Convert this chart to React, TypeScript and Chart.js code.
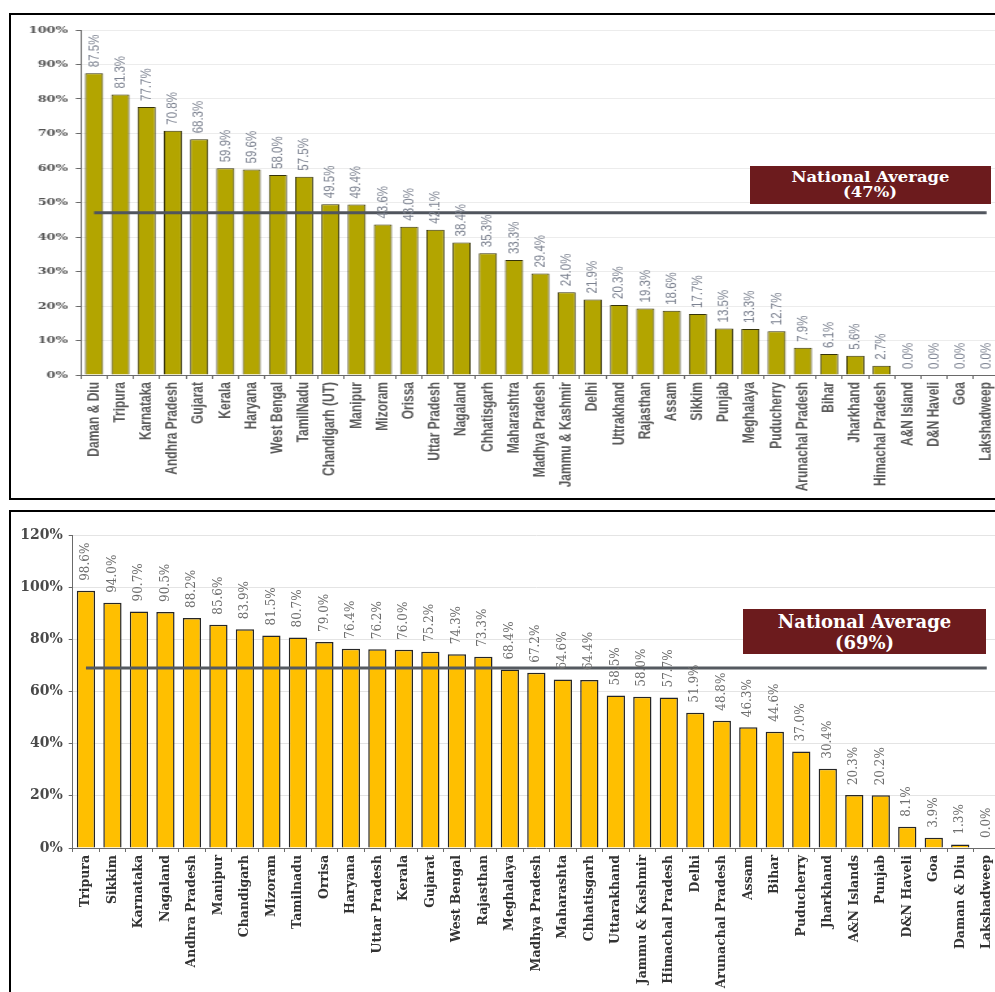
import React, { useEffect, useRef } from "react";
import { Chart, registerables } from "chart.js";

Chart.register(...registerables);

// ---- Upper chart: share of states (%) ----
const upperStates = [
  "Daman & Diu", "Tripura", "Karnataka", "Andhra Pradesh", "Gujarat", "Kerala", "Haryana",
  "West Bengal", "TamilNadu", "Chandigarh (UT)", "Manipur", "Mizoram", "Orissa", "Uttar Pradesh",
  "Nagaland", "Chhatisgarh", "Maharashtra", "Madhya Pradesh", "Jammu & Kashmir", "Delhi",
  "Uttrakhand", "Rajasthan", "Assam", "Sikkim", "Punjab", "Meghalaya", "Puducherry",
  "Arunachal Pradesh", "Bihar", "Jharkhand", "Himachal Pradesh", "A&N Island", "D&N Haveli",
  "Goa", "Lakshadweep",
];
const upperValues = [
  87.5, 81.3, 77.7, 70.8, 68.3, 59.9, 59.6, 58.0, 57.5, 49.5, 49.4, 43.6, 43.0, 42.1, 38.4,
  35.3, 33.3, 29.4, 24.0, 21.9, 20.3, 19.3, 18.6, 17.7, 13.5, 13.3, 12.7, 7.9, 6.1, 5.6, 2.7,
  0.0, 0.0, 0.0, 0.0,
];
const upperAverage = 47;
const upperAxisMax = 100;
const upperAxisStep = 10;

// ---- Lower chart: share of states (%) ----
const lowerStates = [
  "Tripura", "Sikkim", "Karnataka", "Nagaland", "Andhra Pradesh", "Manipur", "Chandigarh",
  "Mizoram", "Tamilnadu", "Orrisa", "Haryana", "Uttar Pradesh", "Kerala", "Gujarat",
  "West Bengal", "Rajasthan", "Meghalaya", "Madhya Pradesh", "Maharashta", "Chhatisgarh",
  "Uttarakhand", "Jammu & Kashmir", "Himachal Pradesh", "Delhi", "Arunachal Pradesh", "Assam",
  "Bihar", "Puducherry", "Jharkhand", "A&N Islands", "Punjab", "D&N Haveli", "Goa",
  "Daman & Diu", "Lakshadweep",
];
const lowerValues = [
  98.6, 94.0, 90.7, 90.5, 88.2, 85.6, 83.9, 81.5, 80.7, 79.0, 76.4, 76.2, 76.0, 75.2, 74.3,
  73.3, 68.4, 67.2, 64.6, 64.4, 58.5, 58.0, 57.7, 51.9, 48.8, 46.3, 44.6, 37.0, 30.4, 20.3,
  20.2, 8.1, 3.9, 1.3, 0.0,
];
const lowerAverage = 69;
const lowerAxisMax = 120;
const lowerAxisStep = 20;

type LabelStyle = { font: string; color: string; gap: number };

// Writes each bar's value, rotated, just above the bar.
function valueLabels(style: LabelStyle) {
  return {
    id: "valueLabels",
    afterDatasetsDraw(chart: any) {
      const meta = chart.getDatasetMeta(0);
      const values = chart.data.datasets[0].data as number[];
      const ctx = chart.ctx as CanvasRenderingContext2D;
      const top = chart.chartArea.top;
      ctx.save();
      ctx.font = style.font;
      ctx.fillStyle = style.color;
      ctx.textAlign = "left";
      ctx.textBaseline = "middle";
      meta.data.forEach((bar: any, i: number) => {
        const text = values[i].toFixed(1) + "%";
        const w = ctx.measureText(text).width;
        let start = bar.y - style.gap;
        if (start - w < top) start = top + w;
        ctx.save();
        ctx.translate(bar.x, start);
        ctx.rotate(-Math.PI / 2);
        ctx.fillText(text, 0, 0);
        ctx.restore();
      });
      ctx.restore();
    },
  };
}

type PanelProps = {
  labels: string[];
  values: number[];
  average: number;
  axisMax: number;
  axisStep: number;
  width: number;
  height: number;
  padTop: number;
  padRight: number;
  axisWidth: number;
  xAxisHeight: number;
  barColor: string;
  barBorder: string;
  barBorderWidth: number;
  lineColor: string;
  gridColor: string;
  yTickFont: any;
  yTickColor: string;
  yTickPad: number;
  xTickFont: any;
  xTickColor: string;
  valueStyle: LabelStyle;
};

function BarPanel(p: PanelProps) {
  const ref = useRef<HTMLCanvasElement | null>(null);
  useEffect(() => {
    if (!ref.current) return;
    const chart = new Chart(ref.current, {
      type: "bar",
      data: {
        labels: p.labels,
        datasets: [
          {
            type: "bar",
            data: p.values,
            backgroundColor: p.barColor,
            borderColor: p.barBorder,
            borderWidth: p.barBorderWidth,
            barPercentage: 0.69,
            categoryPercentage: 1,
            order: 2,
          } as any,
          {
            type: "line",
            data: p.labels.map(() => p.average),
            borderColor: p.lineColor,
            borderWidth: 3,
            pointRadius: 0,
            fill: false,
            order: 1,
          } as any,
        ],
      },
      options: {
        responsive: false,
        maintainAspectRatio: false,
        animation: false,
        devicePixelRatio: 1,
        layout: { padding: { top: p.padTop, right: p.padRight, bottom: 0, left: 0 } },
        plugins: { legend: { display: false }, tooltip: { enabled: false } },
        scales: {
          x: {
            grid: { display: true, drawOnChartArea: false, offset: true, tickLength: 4, tickColor: "#6a6a6a" },
            border: { color: "#6a6a6a", width: 1 },
            ticks: {
              autoSkip: false,
              minRotation: 90,
              maxRotation: 90,
              padding: 3,
              color: p.xTickColor,
              font: p.xTickFont,
            },
            afterFit: (s: any) => {
              s.height = p.xAxisHeight;
            },
          },
          y: {
            min: 0,
            max: p.axisMax,
            ticks: {
              stepSize: p.axisStep,
              padding: p.yTickPad,
              color: p.yTickColor,
              font: p.yTickFont,
              callback: (v: any) => v + "%",
            },
            grid: { color: p.gridColor, tickLength: 4, tickColor: "#6a6a6a" },
            border: { color: "#6a6a6a", width: 1 },
            afterFit: (s: any) => {
              s.width = p.axisWidth;
            },
          },
        },
      } as any,
      plugins: [valueLabels(p.valueStyle)],
    });
    return () => chart.destroy();
  }, []);
  return <canvas ref={ref} width={p.width} height={p.height} style={{ display: "block" }} />;
}

const avgBox = (style: React.CSSProperties, fontSize: number, lineHeight: number, stretch: number, pct: number) => (
  <div
    style={{
      position: "absolute",
      background: "#6c1b1d",
      color: "#ffffff",
      display: "flex",
      flexDirection: "column",
      alignItems: "center",
      justifyContent: "center",
      fontFamily: "'DejaVu Serif', serif",
      fontWeight: "bold",
      fontSize,
      lineHeight: lineHeight + "px",
      ...style,
    }}
  >
    <div style={{ transform: `scaleX(${stretch})`, whiteSpace: "nowrap" }}>National Average</div>
    <div style={{ transform: `scaleX(${stretch})`, whiteSpace: "nowrap" }}>({pct}%)</div>
  </div>
);

export default function App() {
  const stretch = 1.3;
  return (
    <div
      style={{
        position: "fixed",
        left: 0,
        top: 0,
        width: 995,
        height: 992,
        overflow: "hidden",
        background: "#ffffff",
      }}
    >
      {/* upper panel, drawn narrow and widened */}
      <div style={{ position: "absolute", left: 0, top: 0, transform: `scaleX(${stretch})`, transformOrigin: "0 0" }}>
        <BarPanel
          labels={upperStates}
          values={upperValues}
          average={upperAverage}
          axisMax={upperAxisMax}
          axisStep={upperAxisStep}
          width={779}
          height={500}
          padTop={30}
          padRight={10}
          axisWidth={81 / stretch}
          xAxisHeight={125}
          barColor="#b3a500"
          barBorder="#35330a"
          barBorderWidth={1}
          lineColor="#50555d"
          gridColor="#ececec"
          yTickFont={{ family: "'DejaVu Serif', serif", size: 10, weight: "bold" }}
          yTickColor="#555555"
          yTickPad={6}
          xTickFont={{ family: "'Liberation Sans', Arial, sans-serif", size: 12, weight: "bold" }}
          xTickColor="#5a5a5a"
          valueStyle={{ font: "11.5px 'Liberation Sans', Arial, sans-serif", color: "#7c8290", gap: 6 }}
        />
      </div>
      {avgBox({ left: 750, top: 166, width: 241, height: 38 }, 14, 15, 1.17, upperAverage)}
      <div
        style={{
          position: "absolute",
          left: 9,
          top: 13,
          width: 1100,
          height: 487,
          boxSizing: "border-box",
          border: "2px solid #000",
          pointerEvents: "none",
        }}
      />

      {/* lower panel */}
      <div style={{ position: "absolute", left: 0, top: 500 }}>
        <BarPanel
          labels={lowerStates}
          values={lowerValues}
          average={lowerAverage}
          axisMax={lowerAxisMax}
          axisStep={lowerAxisStep}
          width={1012}
          height={492}
          padTop={35}
          padRight={12}
          axisWidth={72.7}
          xAxisHeight={144}
          barColor="#ffbf00"
          barBorder="#262626"
          barBorderWidth={1.5}
          lineColor="#555a60"
          gridColor="#e4e4e4"
          yTickFont={{ family: "'DejaVu Serif', serif", size: 14, weight: "bold" }}
          yTickColor="#4a4a4a"
          yTickPad={6}
          xTickFont={{ family: "'DejaVu Serif', serif", size: 12.5, weight: "bold" }}
          xTickColor="#333333"
          valueStyle={{ font: "12px 'DejaVu Serif', serif", color: "#6e6e6e", gap: 10 }}
        />
      </div>
      {avgBox({ left: 743, top: 609, width: 243, height: 45 }, 18, 21, 1, lowerAverage)}
      <div
        style={{
          position: "absolute",
          left: 9,
          top: 510,
          width: 1100,
          height: 600,
          boxSizing: "border-box",
          border: "2px solid #000",
          pointerEvents: "none",
        }}
      />
    </div>
  );
}
